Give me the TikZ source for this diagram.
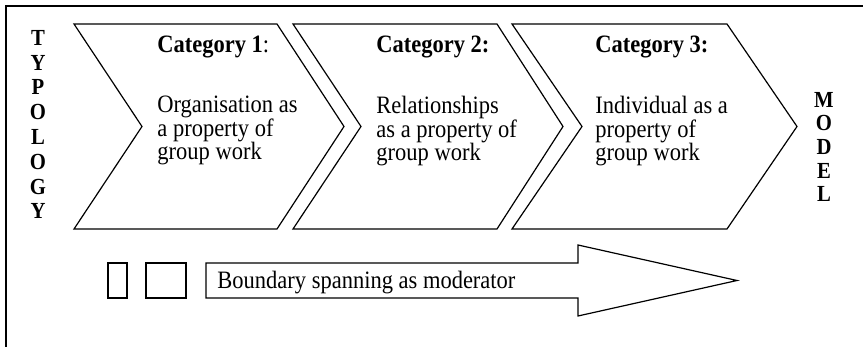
\documentclass[tikz,border=0pt]{standalone}
\usepackage{fontspec}
\setmainfont{Liberation Serif}[FakeStretch=0.9]
\tikzset{
  chev/.style={line width=0.6pt, line join=miter},
  cattext/.style={anchor=base west, inner sep=0pt, font=\fontsize{12.5}{11.75}\selectfont},
  bodytext/.style={anchor=north west, inner sep=0pt, align=left, font=\fontsize{12.5}{11.75}\selectfont},
  sidetext/.style={inner sep=0pt, align=center, font=\bfseries\fontsize{11.5}{12.4}\selectfont},
}
\begin{document}
\begin{tikzpicture}[x=0.5pt,y=-0.5pt]
\useasboundingbox (0,0) rectangle (863,347);

\draw[line width=0.75pt] (6,347) -- (6,6) -- (863,6);

\draw (38,124.5) node[sidetext] (typology) {T\\Y\\P\\O\\L\\O\\G\\Y};
\draw (824,147) node[sidetext, font=\bfseries\fontsize{11.5}{11.8}\selectfont] (model) {M\\O\\D\\E\\L};

% category 1
\draw[chev] (74,24) -- (277,24) -- (344,126.5) -- (277,229) -- (74,229) -- (142,126.5) -- cycle;
\draw (157,53) node[cattext] (cat1) {\textbf{Category 1}:};
\draw (157,96) node[bodytext] (txt1) {Organisation as\\a property of\\group work};

% category 2
\draw[chev] (293,24) -- (497,24) -- (563,126.5) -- (497,229) -- (293,229) -- (361,126.5) -- cycle;
\draw (376,53) node[cattext] (cat2) {\textbf{Category 2:}};
\draw (376,96) node[bodytext] (txt2) {Relationships\\as a property of\\group work};

% category 3
\draw[chev] (512,24) -- (727,24) -- (797,126.5) -- (727,229) -- (512,229) -- (582,126.5) -- cycle;
\draw (595,53) node[cattext] (cat3) {\textbf{Category 3:}};
\draw (595,96) node[bodytext] (txt3) {Individual as a\\property of\\group work};

% moderator
\draw[chev] (108,263) rectangle (127,298);
\draw[chev] (146,263) rectangle (186,298);
\draw[chev] (206,263) -- (578,263) -- (578,245) -- (737,280.5) -- (578,316) -- (578,298) -- (206,298) -- cycle;
\draw (217,289) node[cattext] (moderator) {Boundary spanning as moderator};
\end{tikzpicture}
\end{document}
